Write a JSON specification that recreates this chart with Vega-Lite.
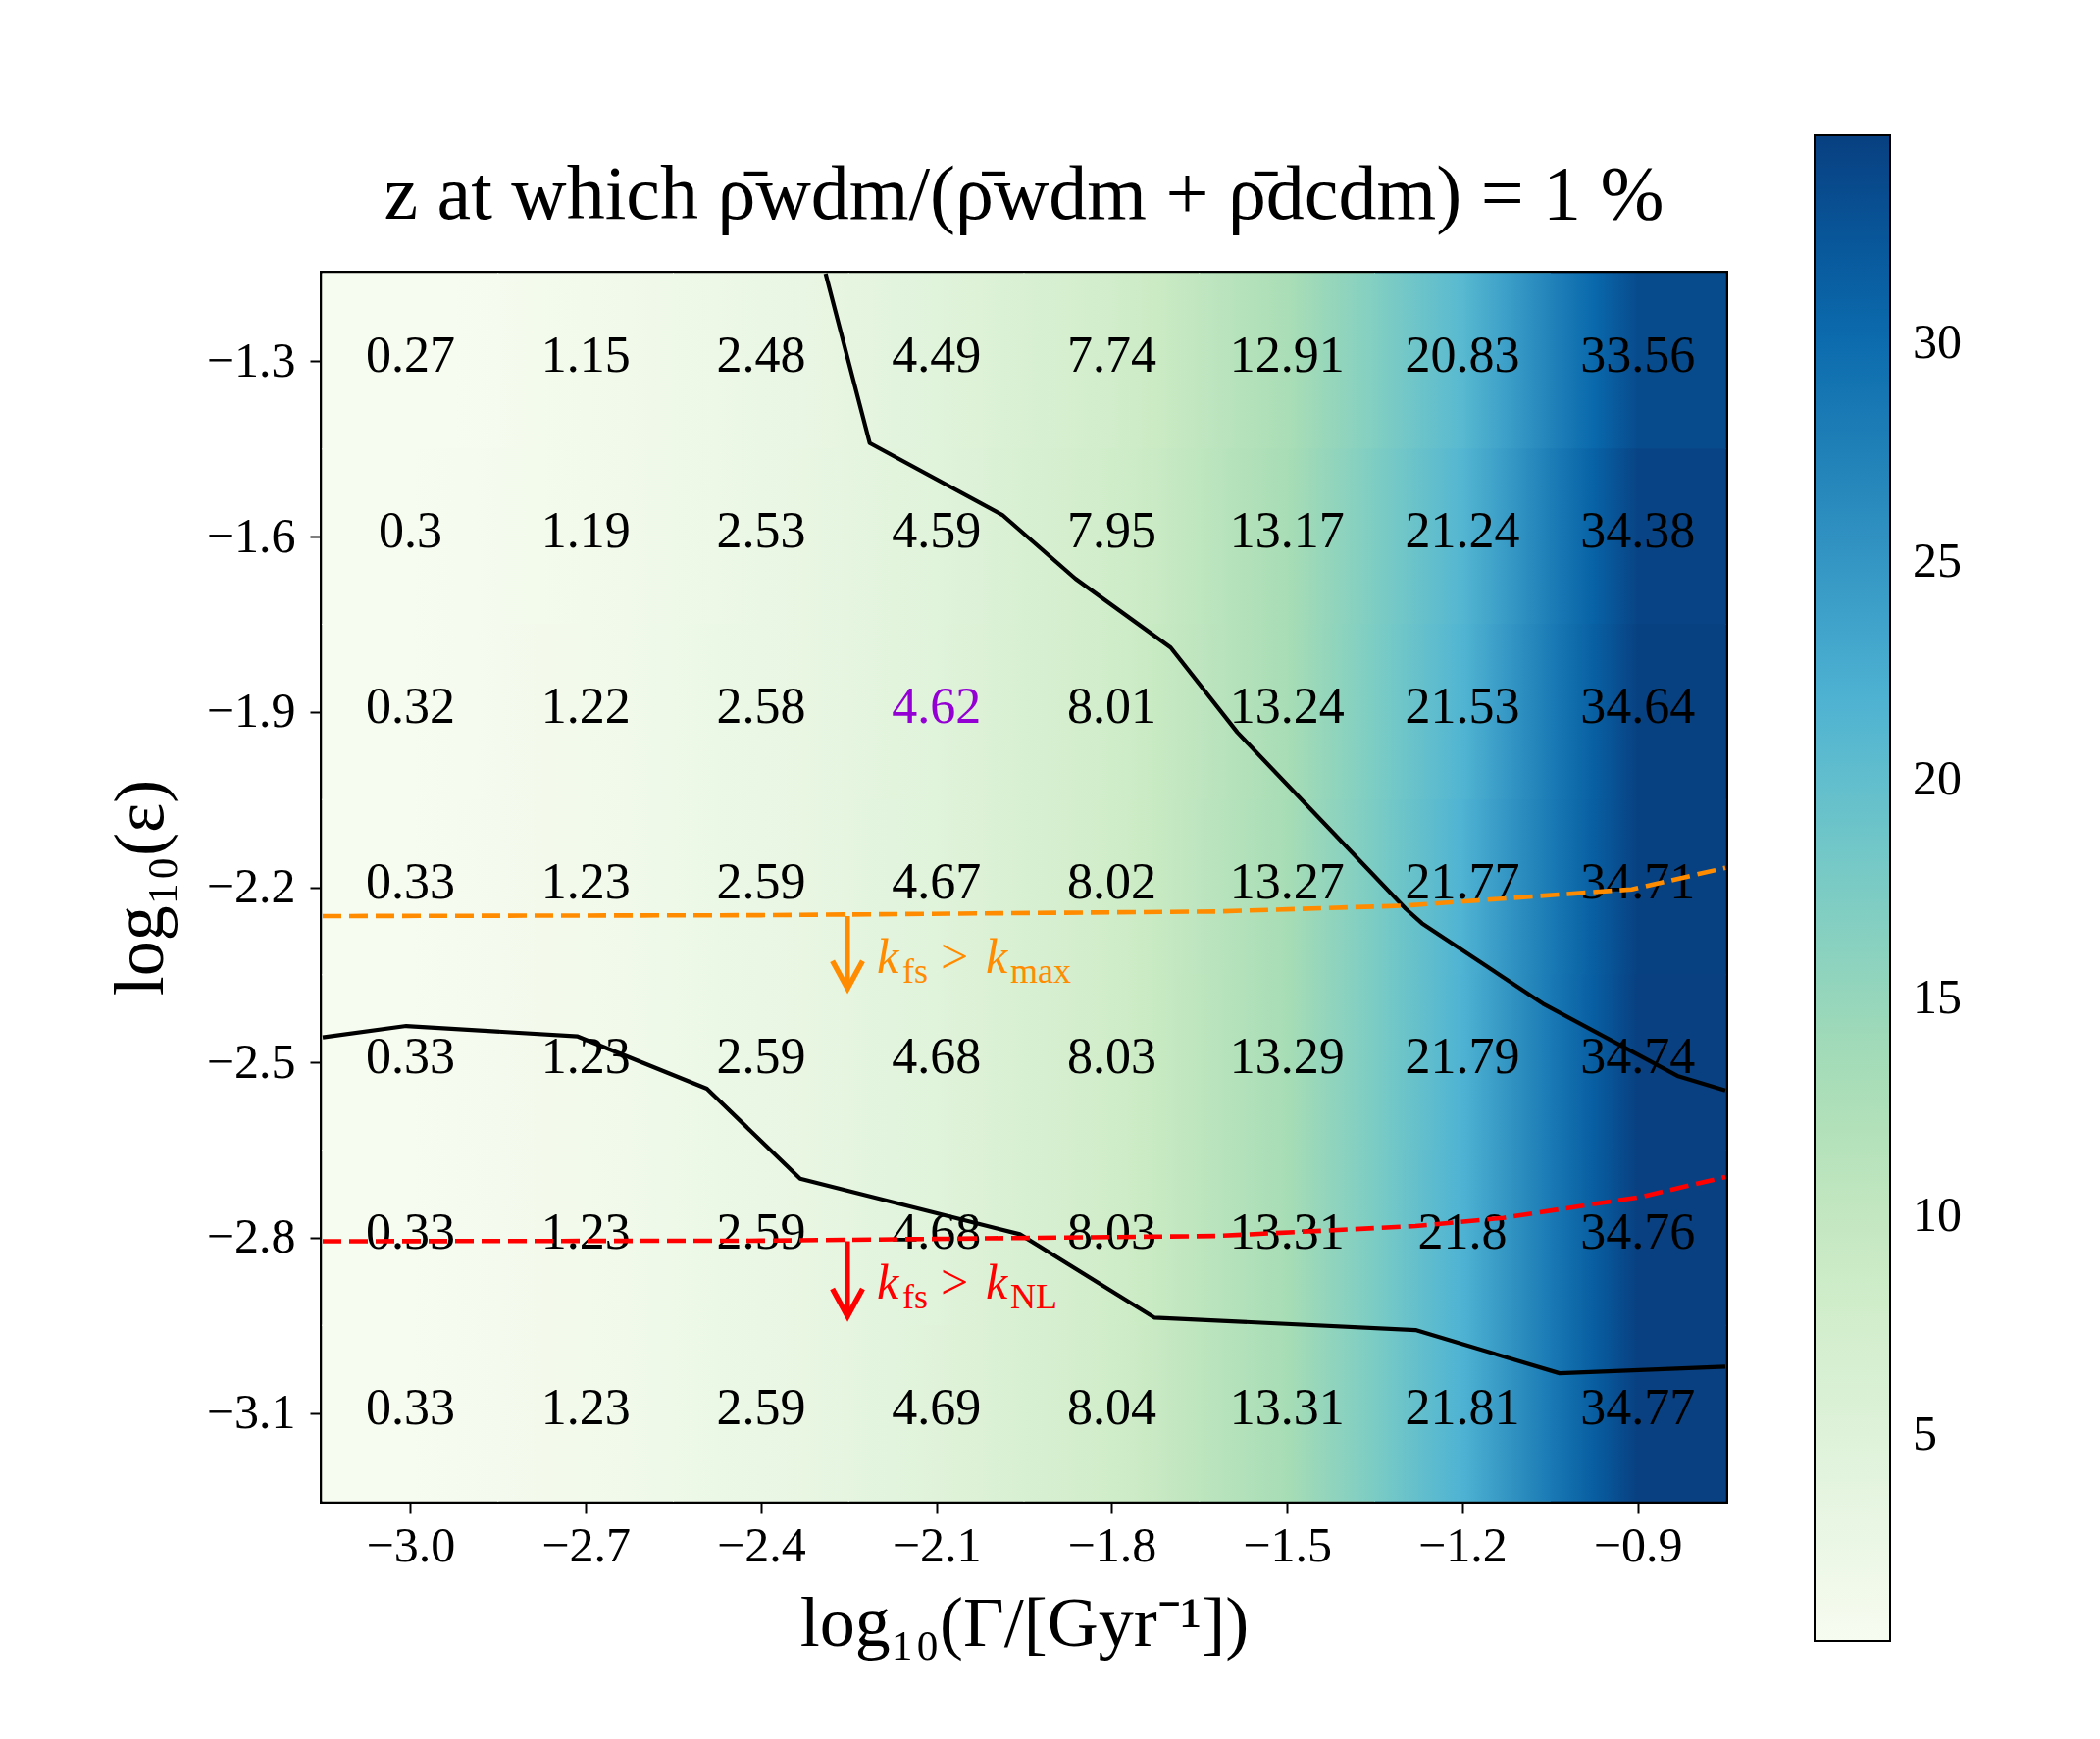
{
  "$schema": "https://vega.github.io/schema/vega-lite/v6.json",
  "width": 1430,
  "height": 1251,
  "autosize": {"type": "none"},
  "padding": {"left": 329, "top": 279, "right": 382, "bottom": 243},
  "background": "white",
  "title": {
    "text": "z  at  which  ρ̄wdm/(ρ̄wdm + ρ̄dcdm) = 1 %",
    "font": "Liberation Serif",
    "fontSize": 78,
    "fontWeight": "normal",
    "color": "black",
    "anchor": "middle",
    "baseline": "alphabetic",
    "offset": -163
  },
  "datasets": {
    "cells": [
      {"x": -3.0, "y": -1.3, "v": 0.27}, {"x": -2.7, "y": -1.3, "v": 1.15}, {"x": -2.4, "y": -1.3, "v": 2.48}, {"x": -2.1, "y": -1.3, "v": 4.49},
      {"x": -1.8, "y": -1.3, "v": 7.74}, {"x": -1.5, "y": -1.3, "v": 12.91}, {"x": -1.2, "y": -1.3, "v": 20.83}, {"x": -0.9, "y": -1.3, "v": 33.56},
      {"x": -3.0, "y": -1.6, "v": 0.3}, {"x": -2.7, "y": -1.6, "v": 1.19}, {"x": -2.4, "y": -1.6, "v": 2.53}, {"x": -2.1, "y": -1.6, "v": 4.59},
      {"x": -1.8, "y": -1.6, "v": 7.95}, {"x": -1.5, "y": -1.6, "v": 13.17}, {"x": -1.2, "y": -1.6, "v": 21.24}, {"x": -0.9, "y": -1.6, "v": 34.38},
      {"x": -3.0, "y": -1.9, "v": 0.32}, {"x": -2.7, "y": -1.9, "v": 1.22}, {"x": -2.4, "y": -1.9, "v": 2.58}, {"x": -2.1, "y": -1.9, "v": 4.62},
      {"x": -1.8, "y": -1.9, "v": 8.01}, {"x": -1.5, "y": -1.9, "v": 13.24}, {"x": -1.2, "y": -1.9, "v": 21.53}, {"x": -0.9, "y": -1.9, "v": 34.64},
      {"x": -3.0, "y": -2.2, "v": 0.33}, {"x": -2.7, "y": -2.2, "v": 1.23}, {"x": -2.4, "y": -2.2, "v": 2.59}, {"x": -2.1, "y": -2.2, "v": 4.67},
      {"x": -1.8, "y": -2.2, "v": 8.02}, {"x": -1.5, "y": -2.2, "v": 13.27}, {"x": -1.2, "y": -2.2, "v": 21.77}, {"x": -0.9, "y": -2.2, "v": 34.71},
      {"x": -3.0, "y": -2.5, "v": 0.33}, {"x": -2.7, "y": -2.5, "v": 1.23}, {"x": -2.4, "y": -2.5, "v": 2.59}, {"x": -2.1, "y": -2.5, "v": 4.68},
      {"x": -1.8, "y": -2.5, "v": 8.03}, {"x": -1.5, "y": -2.5, "v": 13.29}, {"x": -1.2, "y": -2.5, "v": 21.79}, {"x": -0.9, "y": -2.5, "v": 34.74},
      {"x": -3.0, "y": -2.8, "v": 0.33}, {"x": -2.7, "y": -2.8, "v": 1.23}, {"x": -2.4, "y": -2.8, "v": 2.59}, {"x": -2.1, "y": -2.8, "v": 4.68},
      {"x": -1.8, "y": -2.8, "v": 8.03}, {"x": -1.5, "y": -2.8, "v": 13.31}, {"x": -1.2, "y": -2.8, "v": 21.8}, {"x": -0.9, "y": -2.8, "v": 34.76},
      {"x": -3.0, "y": -3.1, "v": 0.33}, {"x": -2.7, "y": -3.1, "v": 1.23}, {"x": -2.4, "y": -3.1, "v": 2.59}, {"x": -2.1, "y": -3.1, "v": 4.69},
      {"x": -1.8, "y": -3.1, "v": 8.04}, {"x": -1.5, "y": -3.1, "v": 13.31}, {"x": -1.2, "y": -3.1, "v": 21.81}, {"x": -0.9, "y": -3.1, "v": 34.77}
    ],
    "curves": [
      {"line": "upper", "x": -2.2895, "y": -1.15},
      {"line": "upper", "x": -2.214, "y": -1.44},
      {"line": "upper", "x": -1.987, "y": -1.563},
      {"line": "upper", "x": -1.862, "y": -1.672},
      {"line": "upper", "x": -1.699, "y": -1.79},
      {"line": "upper", "x": -1.585, "y": -1.935},
      {"line": "upper", "x": -1.297, "y": -2.237},
      {"line": "upper", "x": -1.269, "y": -2.262},
      {"line": "upper", "x": -1.062, "y": -2.3995},
      {"line": "upper", "x": -0.832, "y": -2.523},
      {"line": "upper", "x": -0.75, "y": -2.548},
      {"line": "lower", "x": -3.15, "y": -2.457},
      {"line": "lower", "x": -3.007, "y": -2.4376},
      {"line": "lower", "x": -2.7136, "y": -2.4555},
      {"line": "lower", "x": -2.4926, "y": -2.545},
      {"line": "lower", "x": -2.333, "y": -2.699},
      {"line": "lower", "x": -1.957, "y": -2.794},
      {"line": "lower", "x": -1.7273, "y": -2.9366},
      {"line": "lower", "x": -1.28, "y": -2.958},
      {"line": "lower", "x": -1.0337, "y": -3.032},
      {"line": "lower", "x": -0.75, "y": -3.0206},
      {"line": "kmax", "x": -3.15, "y": -2.2495},
      {"line": "kmax", "x": -2.4, "y": -2.248},
      {"line": "kmax", "x": -1.621, "y": -2.2417},
      {"line": "kmax", "x": -1.297, "y": -2.2316},
      {"line": "kmax", "x": -0.91, "y": -2.2037},
      {"line": "kmax", "x": -0.75, "y": -2.167},
      {"line": "knl", "x": -3.15, "y": -2.806},
      {"line": "knl", "x": -2.4, "y": -2.805},
      {"line": "knl", "x": -1.62, "y": -2.797},
      {"line": "knl", "x": -1.28, "y": -2.78},
      {"line": "knl", "x": -1.13, "y": -2.766},
      {"line": "knl", "x": -0.894, "y": -2.73},
      {"line": "knl", "x": -0.75, "y": -2.696}
    ],
    "notes": [
      {"ann": "max", "x": -2.252, "y": -2.2495, "y2": -2.3733},
      {"ann": "NL", "x": -2.252, "y": -2.806, "y2": -2.9344}
    ]
  },
  "layer": [
    {
      "data": {"name": "cells"},
      "mark": {"type": "rect", "width": {"expr": "width / 8 + 1"}, "height": {"expr": "height / 7 + 1"}},
      "encoding": {
        "x": {
          "field": "x", "type": "quantitative",
          "scale": {"domain": [-3.15, -0.75], "nice": false, "zero": false},
          "axis": {
            "values": [-3.0, -2.7, -2.4, -2.1, -1.8, -1.5, -1.2, -0.9],
            "format": ".1f",
            "title": "log₁₀(Γ/[Gyr⁻¹])",
            "titleX": 715,
            "titleY": 147,
            "titleAlign": "center",
            "titleBaseline": "alphabetic",
            "titleFontSize": 72,
            "labelPadding": 8
          }
        },
        "y": {
          "field": "y", "type": "quantitative",
          "scale": {"domain": [-3.25, -1.15], "nice": false, "zero": false},
          "axis": {
            "values": [-1.3, -1.6, -1.9, -2.2, -2.5, -2.8, -3.1],
            "format": ".1f",
            "title": "log₁₀(ε)",
            "titleX": -164,
            "titleY": 625.5,
            "titleAngle": -90,
            "titleAlign": "center",
            "titleBaseline": "alphabetic",
            "titleFontSize": 72,
            "labelPadding": 15
          }
        },
        "color": {
          "field": "v", "type": "quantitative",
          "scale": {
            "domain": [0.27, 4.5825, 8.895, 13.2075, 17.52, 21.8325, 26.145, 30.4575, 34.77],
            "range": ["#f7fcf0", "#e0f3db", "#ccebc5", "#a8ddb5", "#7bccc4", "#4eb3d3", "#2b8cbe", "#0868ac", "#084081"],
            "interpolate": "rgb"
          },
          "legend": {
            "type": "gradient",
            "orient": "none",
            "legendX": 1521,
            "legendY": -141,
            "direction": "vertical",
            "gradientLength": 1535,
            "gradientThickness": 77,
            "gradientStrokeColor": "black",
            "gradientStrokeWidth": 2,
            "title": null,
            "values": [5, 10, 15, 20, 25, 30],
            "labelFont": "Liberation Serif",
            "labelFontSize": 50,
            "labelColor": "black",
            "labelOffset": 23,
            "labelOverlap": false,
            "padding": 0
          }
        }
      }
    },
    {
      "data": {"name": "cells"},
      "transform": [
        {
          "window": [{"op": "lag", "field": "v", "as": "vl"}, {"op": "lead", "field": "v", "as": "vr"}],
          "groupby": ["y"],
          "sort": [{"field": "x", "order": "ascending"}]
        }
      ],
      "mark": {
        "type": "rect",
        "width": {"expr": "width / 8 + 1"},
        "height": {"expr": "height / 7 + 1"},
        "fill": {"expr": "{gradient: 'linear', x1: 0, y1: 0, x2: 1, y2: 0, stops: [{offset: 0, color: scale('color', isValid(datum.vl) ? (datum.vl + datum.v) / 2 : datum.v)}, {offset: 0.25, color: scale('color', isValid(datum.vl) ? (datum.vl + 3 * datum.v) / 4 : datum.v)}, {offset: 0.5, color: scale('color', datum.v)}, {offset: 0.75, color: scale('color', isValid(datum.vr) ? (datum.vr + 3 * datum.v) / 4 : datum.v)}, {offset: 1, color: scale('color', isValid(datum.vr) ? (datum.vr + datum.v) / 2 : datum.v)}]}"}
      },
      "encoding": {
        "x": {"field": "x", "type": "quantitative"},
        "y": {"field": "y", "type": "quantitative"}
      }
    },
    {
      "data": {"name": "cells"},
      "mark": {"type": "text", "font": "Liberation Serif", "fontSize": 52, "align": "center", "baseline": "middle", "dy": -5},
      "encoding": {
        "x": {"field": "x", "type": "quantitative"},
        "y": {"field": "y", "type": "quantitative"},
        "text": {"field": "v", "type": "quantitative"},
        "color": {"condition": {"test": "datum.x == -2.1 && datum.y == -1.9", "value": "#9400d3"}, "value": "black"}
      }
    },
    {
      "data": {"name": "curves"},
      "transform": [{"filter": "datum.line == 'upper' || datum.line == 'lower'"}],
      "mark": {"type": "line", "color": "black", "strokeWidth": 4.2, "strokeJoin": "round"},
      "encoding": {
        "x": {"field": "x", "type": "quantitative"},
        "y": {"field": "y", "type": "quantitative"},
        "detail": {"field": "line"}
      }
    },
    {
      "data": {"name": "curves"},
      "transform": [{"filter": "datum.line == 'kmax' || datum.line == 'knl'"}],
      "mark": {"type": "line", "strokeWidth": 4.6, "strokeDash": [19, 8]},
      "encoding": {
        "x": {"field": "x", "type": "quantitative"},
        "y": {"field": "y", "type": "quantitative"},
        "detail": {"field": "line"},
        "color": {"condition": {"test": "datum.line == 'kmax'", "value": "#ff8c00"}, "value": "#ff0000"}
      }
    },
    {
      "data": {"name": "notes"},
      "mark": {"type": "rule", "strokeWidth": 5},
      "encoding": {
        "x": {"field": "x", "type": "quantitative"},
        "y": {"field": "y", "type": "quantitative"},
        "y2": {"field": "y2"},
        "color": {"condition": {"test": "datum.ann == 'max'", "value": "#ff8c00"}, "value": "#ff0000"}
      }
    },
    {
      "data": {"name": "notes"},
      "mark": {"type": "point", "shape": "M -0.55 -1 L 0 0 L 0.55 -1", "size": 3136, "filled": false, "strokeWidth": 5.5, "opacity": 1, "strokeJoin": "miter"},
      "encoding": {
        "x": {"field": "x", "type": "quantitative"},
        "y": {"field": "y2", "type": "quantitative"},
        "color": {"condition": {"test": "datum.ann == 'max'", "value": "#ff8c00"}, "value": "#ff0000"}
      }
    },
    {
      "data": {"name": "notes"},
      "mark": {"type": "text", "text": "k", "font": "Liberation Serif", "fontStyle": "italic", "fontSize": 50, "align": "left", "baseline": "alphabetic", "dx": 30, "dy": 58},
      "encoding": {
        "x": {"field": "x", "type": "quantitative"},
        "y": {"field": "y", "type": "quantitative"},
        "color": {"condition": {"test": "datum.ann == 'max'", "value": "#ff8c00"}, "value": "#ff0000"}
      }
    },
    {
      "data": {"name": "notes"},
      "mark": {"type": "text", "text": "fs", "font": "Liberation Serif", "fontSize": 36, "align": "left", "baseline": "alphabetic", "dx": 56, "dy": 68},
      "encoding": {
        "x": {"field": "x", "type": "quantitative"},
        "y": {"field": "y", "type": "quantitative"},
        "color": {"condition": {"test": "datum.ann == 'max'", "value": "#ff8c00"}, "value": "#ff0000"}
      }
    },
    {
      "data": {"name": "notes"},
      "mark": {"type": "text", "text": ">", "font": "Liberation Serif", "fontSize": 50, "align": "left", "baseline": "alphabetic", "dx": 95, "dy": 58},
      "encoding": {
        "x": {"field": "x", "type": "quantitative"},
        "y": {"field": "y", "type": "quantitative"},
        "color": {"condition": {"test": "datum.ann == 'max'", "value": "#ff8c00"}, "value": "#ff0000"}
      }
    },
    {
      "data": {"name": "notes"},
      "mark": {"type": "text", "text": "k", "font": "Liberation Serif", "fontStyle": "italic", "fontSize": 50, "align": "left", "baseline": "alphabetic", "dx": 141, "dy": 58},
      "encoding": {
        "x": {"field": "x", "type": "quantitative"},
        "y": {"field": "y", "type": "quantitative"},
        "color": {"condition": {"test": "datum.ann == 'max'", "value": "#ff8c00"}, "value": "#ff0000"}
      }
    },
    {
      "data": {"name": "notes"},
      "mark": {"type": "text", "font": "Liberation Serif", "fontSize": 36, "align": "left", "baseline": "alphabetic", "dx": 166, "dy": 68},
      "encoding": {
        "x": {"field": "x", "type": "quantitative"},
        "y": {"field": "y", "type": "quantitative"},
        "text": {"field": "ann"},
        "color": {"condition": {"test": "datum.ann == 'max'", "value": "#ff8c00"}, "value": "#ff0000"}
      }
    }
  ],
  "config": {
    "font": "Liberation Serif",
    "view": {"stroke": "black", "strokeWidth": 6},
    "axis": {
      "grid": false,
      "domain": true,
      "domainColor": "black",
      "domainWidth": 2.5,
      "ticks": true,
      "tickColor": "black",
      "tickWidth": 2,
      "tickSize": 13,
      "labelFont": "Liberation Serif",
      "labelFontSize": 50,
      "labelColor": "black",
      "labelOverlap": false,
      "labelFlush": false,
      "titleFont": "Liberation Serif",
      "titleFontWeight": "normal",
      "titleColor": "black"
    }
  }
}
